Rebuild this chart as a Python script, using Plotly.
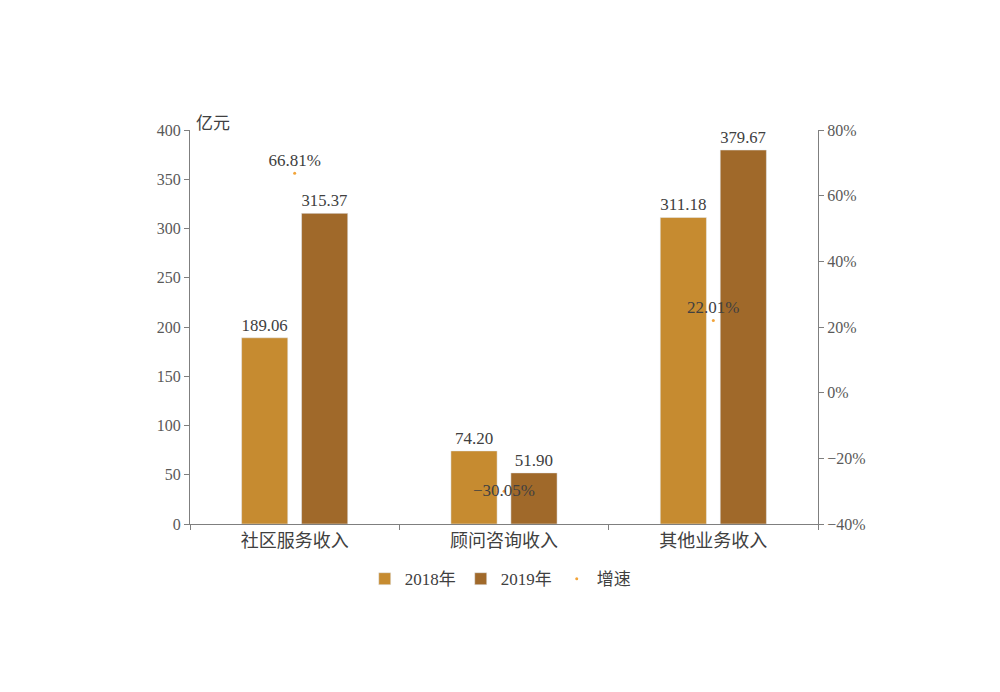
import plotly.graph_objects as go

categories = ["社区服务收入", "顾问咨询收入", "其他业务收入"]
rev_2018 = [189.06, 74.20, 311.18]
rev_2019 = [315.37, 51.90, 379.67]
growth = [66.81, -30.05, 22.01]
growth_pos = ["top center", "middle center", "top center"]

c2018 = "#C68B30"
c2019 = "#A0692A"
cgrowth = "#F2A43A"
num_font = dict(family="Liberation Serif, Noto Sans CJK SC", size=17, color="#404040")

fig = go.Figure()
fig.add_trace(go.Bar(
    x=categories, y=rev_2018, name="2018年", marker_color=c2018,
    text=[f"{v:.2f}" for v in rev_2018], textposition="outside",
    textfont=num_font, cliponaxis=False,
))
fig.add_trace(go.Bar(
    x=categories, y=rev_2019, name="2019年", marker_color=c2019,
    text=[f"{v:.2f}" for v in rev_2019], textposition="outside",
    textfont=num_font, cliponaxis=False,
))
fig.add_trace(go.Scatter(
    x=categories, y=growth, name="增速", yaxis="y2", mode="markers+text",
    marker=dict(color=cgrowth, size=3),
    text=[f"{v:.2f}%".replace("-", "\u2212") for v in growth], textposition=growth_pos,
    textfont=num_font, cliponaxis=False,
))

axis_font = dict(family="Liberation Serif, Noto Sans CJK SC", size=16, color="#595959")

fig.update_layout(
    width=1000, height=692,
    margin=dict(l=182, r=190, t=122, b=176),
    paper_bgcolor="white", plot_bgcolor="white",
    barmode="group", bargap=0.427, bargroupgap=0.23,
    showlegend=True,
    legend=dict(orientation="h", x=0.494, xanchor="center", y=-0.14, yanchor="middle",
                font=dict(family="Liberation Serif, Noto Sans CJK SC", size=17, color="#404040"),
                itemwidth=30, traceorder="normal"),
    xaxis=dict(
        showline=True, linecolor="#7F7F7F", linewidth=1,
        ticks="outside", tickson="boundaries", ticklen=5, tickcolor="#7F7F7F",
        tickfont=dict(family="Liberation Serif, Noto Sans CJK SC", size=18, color="#404040"),
        showgrid=False,
    ),
    yaxis=dict(
        range=[0, 400], dtick=50, showline=True, linecolor="#7F7F7F", linewidth=1,
        ticks="outside", ticklen=5, tickcolor="#7F7F7F", showgrid=False, zeroline=False,
        tickfont=axis_font,
    ),
    yaxis2=dict(
        range=[-40, 80], dtick=20, overlaying="y", side="right", ticksuffix="%",
        showline=True, linecolor="#7F7F7F", linewidth=1,
        ticks="outside", ticklen=5, tickcolor="#7F7F7F", showgrid=False, zeroline=False,
        tickfont=axis_font,
    ),
    annotations=[dict(
        text="亿元", xref="paper", yref="paper", x=0.0, y=1.0, xanchor="left", yanchor="bottom",
        xshift=4, yshift=-6, showarrow=False,
        font=dict(family="Noto Sans CJK SC", size=17, color="#404040"),
    )],
)

fig.write_html("out.html")
